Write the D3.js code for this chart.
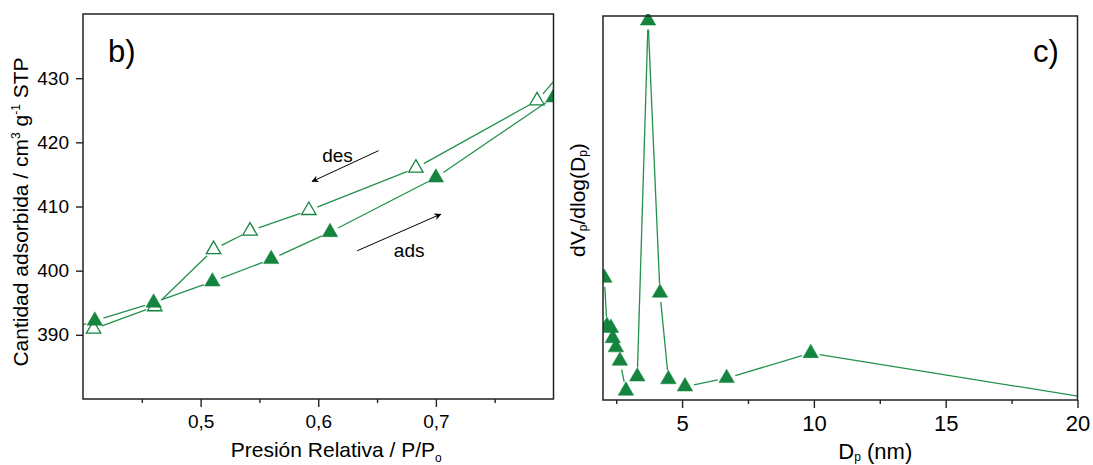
<!DOCTYPE html>
<html>
<head>
<meta charset="utf-8">
<script src="https://cdn.jsdelivr.net/npm/d3@7"></script>
<style>
  body { margin: 0; background: #fff; }
  text { font-family: Arial, "Liberation Sans", sans-serif; fill: #000; }
</style>
</head>
<body>
<svg id="chart" width="1093" height="465"></svg>
<script>
// panel b) isotherm, adsorption branch (filled) and desorption branch (open)
const adsPressure = [0.37, 0.41, 0.46, 0.51, 0.56, 0.61, 0.70, 0.80];
const adsAmount = [389.6, 392.2, 395.0, 398.3, 401.8, 406.0, 414.5, 427.0];
const desPressure = [0.409, 0.461, 0.511, 0.542, 0.592, 0.683, 0.786, 0.83];
const desAmount = [390.9, 394.4, 403.3, 406.2, 409.4, 416.0, 426.5, 435.8];
const pressureTicks = [0.5, 0.6, 0.7];
const pressureMinorTicks = [0.45, 0.55, 0.65, 0.75];
const amountTicks = [390, 400, 410, 420, 430];

// panel c) pore size distribution (arbitrary units)
const poreDiameter = [2.05, 2.15, 2.30, 2.37, 2.49, 2.64, 2.87, 3.30, 3.71, 4.16, 4.48, 5.11, 6.69, 9.88, 22];
const poreVolume = [31.8, 19.3, 18.75, 16.1, 13.7, 10.2, 2.4, 6.1, 98.8, 27.9, 5.4, 3.5, 5.7, 12.2, -1.2];
const diameterTicks = [5, 10, 15, 20];
const diameterMinorTicks = [2.5, 7.5, 12.5, 17.5];

// annotation arrows, in data units of panel b)
const desArrow = { from: [0.6513, 418.7], to: [0.5948, 413.9], label: 'des', at: [0.6164, 417.9] };
const adsArrow = { from: [0.6331, 403.1], to: [0.7041, 408.8], label: 'ads', at: [0.6773, 403.2] };

const markerFill = '#15843e';
const lineColor = '#23914c';
const frameColor = '#222';

const svg = d3.select('#chart');
const defs = svg.append('defs');

defs.append('marker')
	.attr('id', 'arrowHead')
	.attr('viewBox', '0 0 10 10')
	.attr('refX', 9).attr('refY', 5)
	.attr('markerWidth', 9).attr('markerHeight', 7)
	.attr('markerUnits', 'userSpaceOnUse')
	.attr('orient', 'auto')
	.append('path')
	.attr('d', 'M0,0 L10,5 L0,10 L3,5 Z')
	.attr('fill', '#000');

function addClip(id, x0, x1, y0, y1) {
	defs.append('clipPath').attr('id', id)
		.append('rect')
		.attr('x', x0).attr('y', y1)
		.attr('width', x1 - x0).attr('height', y0 - y1);
}

// line pieces that stop short of each marker, the way Origin draws them
function gappedSegments(points, gap) {
	let segments = [];
	for (let i = 0; i < points.length - 1; i++) {
		let [x1, y1] = points[i], [x2, y2] = points[i + 1];
		let dx = x2 - x1, dy = y2 - y1;
		let len = Math.sqrt(dx * dx + dy * dy);
		if (len <= 2 * gap) continue;
		let ux = dx / len, uy = dy / len;
		segments.push([x1 + ux * gap, y1 + uy * gap, x2 - ux * gap, y2 - uy * gap]);
	}
	return segments;
}

function drawSeries(g, xScale, yScale, xs, ys, isFilled) {
	let points = xs.map((x, i) => [xScale(x), yScale(ys[i])]);
	g.selectAll(null)
		.data(gappedSegments(points, 9))
		.enter().append('line')
		.attr('x1', d => d[0]).attr('y1', d => d[1])
		.attr('x2', d => d[2]).attr('y2', d => d[3])
		.attr('stroke', lineColor)
		.attr('stroke-width', 1.3);
	g.selectAll(null)
		.data(points)
		.enter().append('path')
		.attr('transform', d => 'translate(' + d[0] + ',' + d[1] + ')')
		.attr('d', d3.symbol(d3.symbolTriangle, isFilled ? 104 : 90)())
		.attr('fill', isFilled ? markerFill : '#fff')
		.attr('stroke', markerFill)
		.attr('stroke-width', isFilled ? 0.5 : 1.3);
}

function drawFrame(x0, x1, y0, y1) {
	svg.append('rect')
		.attr('x', x0).attr('y', y1)
		.attr('width', x1 - x0).attr('height', y0 - y1)
		.attr('fill', 'none')
		.attr('stroke', frameColor)
		.attr('stroke-width', 1.5);
}

function styleAxis(axisG, fontSize) {
	axisG.select('.domain').remove();
	axisG.selectAll('line').attr('stroke', frameColor).attr('stroke-width', 1.4);
	axisG.selectAll('text')
		.style('font-size', fontSize + 'px')
		.style('font-family', 'Arial, "Liberation Sans", sans-serif')
		.attr('fill', '#000');
}

// ---------- panel b) ----------
const bLeft = 83, bRight = 553.5, bTop = 14, bBottom = 399;
const xB = d3.scaleLinear().domain([0.4, 0.8]).range([bLeft, bRight]);
const yB = d3.scaleLinear().domain([380, 440]).range([bBottom, bTop]);
addClip('clipB', bLeft, bRight, bBottom, bTop);

const plotB = svg.append('g').attr('clip-path', 'url(#clipB)');
drawSeries(plotB.append('g'), xB, yB, desPressure, desAmount, false);
drawSeries(plotB.append('g'), xB, yB, adsPressure, adsAmount, true);

let axisBx = svg.append('g').attr('transform', 'translate(0,' + bBottom + ')')
	.call(d3.axisBottom(xB).tickValues(pressureTicks).tickSize(8).tickPadding(8)
		.tickFormat(d => d3.format('.1f')(d).replace('.', ',')));
styleAxis(axisBx, 19);
let axisBxMinor = svg.append('g').attr('transform', 'translate(0,' + bBottom + ')')
	.call(d3.axisBottom(xB).tickValues(pressureMinorTicks).tickSize(4).tickFormat(''));
styleAxis(axisBxMinor, 19);
let axisBy = svg.append('g').attr('transform', 'translate(' + bLeft + ',0)')
	.call(d3.axisLeft(yB).tickValues(amountTicks).tickSize(7).tickPadding(7));
styleAxis(axisBy, 19);
drawFrame(bLeft, bRight, bBottom, bTop);

[desArrow, adsArrow].forEach(function(a) {
	svg.append('line')
		.attr('x1', xB(a.from[0])).attr('y1', yB(a.from[1]))
		.attr('x2', xB(a.to[0])).attr('y2', yB(a.to[1]))
		.attr('stroke', '#000').attr('stroke-width', 1)
		.attr('marker-end', 'url(#arrowHead)');
	svg.append('text')
		.attr('x', xB(a.at[0])).attr('y', yB(a.at[1]))
		.attr('text-anchor', 'middle').attr('dy', '0.35em')
		.style('font-size', '19px')
		.text(a.label);
});

svg.append('text').attr('x', 108).attr('y', 62).style('font-size', '31px').text('b)');

let bYTitle = svg.append('text')
	.attr('transform', 'translate(28,212) rotate(-90)')
	.attr('text-anchor', 'middle')
	.style('font-size', '21px');
bYTitle.append('tspan').text('Cantidad adsorbida / cm');
bYTitle.append('tspan').attr('dy', -8).style('font-size', '12px').text('3');
bYTitle.append('tspan').attr('dy', 8).text(' g');
bYTitle.append('tspan').attr('dy', -8).style('font-size', '12px').text('-1');
bYTitle.append('tspan').attr('dy', 8).text(' STP');

let bXTitle = svg.append('text')
	.attr('x', (bLeft + bRight) / 2 + 18).attr('y', 457)
	.attr('text-anchor', 'middle')
	.style('font-size', '21px');
bXTitle.append('tspan').text('Presión Relativa / P/P');
bXTitle.append('tspan').attr('dy', 5).style('font-size', '12px').text('o');

// ---------- panel c) ----------
const cLeft = 603, cRight = 1077.5, cTop = 16, cBottom = 400;
const xC = d3.scaleLinear().domain([2, 20]).range([cLeft, cRight]);
const yC = d3.scaleLinear().domain([0, 100]).range([cBottom, cTop]);
addClip('clipC', cLeft, cRight, cBottom, cTop - 2);

const plotC = svg.append('g').attr('clip-path', 'url(#clipC)');
drawSeries(plotC.append('g'), xC, yC, poreDiameter, poreVolume, true);

let axisCx = svg.append('g').attr('transform', 'translate(0,' + cBottom + ')')
	.call(d3.axisBottom(xC).tickValues(diameterTicks).tickSize(8).tickPadding(7));
styleAxis(axisCx, 22);
let axisCxMinor = svg.append('g').attr('transform', 'translate(0,' + cBottom + ')')
	.call(d3.axisBottom(xC).tickValues(diameterMinorTicks).tickSize(4).tickFormat(''));
styleAxis(axisCxMinor, 22);
drawFrame(cLeft, cRight, cBottom, cTop);

svg.append('text').attr('x', 1033).attr('y', 62).style('font-size', '31px').text('c)');

let cYTitle = svg.append('text')
	.attr('transform', 'translate(585,200) rotate(-90)')
	.attr('text-anchor', 'middle')
	.style('font-size', '21px');
cYTitle.append('tspan').text('dV');
cYTitle.append('tspan').attr('dy', 2).style('font-size', '12px').text('p');
cYTitle.append('tspan').attr('dy', -2).text('/dlog(D');
cYTitle.append('tspan').attr('dy', 2).style('font-size', '12px').text('p');
cYTitle.append('tspan').attr('dy', -2).text(')');

let cXTitle = svg.append('text')
	.attr('x', (cLeft + cRight) / 2 + 35).attr('y', 459)
	.attr('text-anchor', 'middle')
	.style('font-size', '22px');
cXTitle.append('tspan').text('D');
cXTitle.append('tspan').attr('dy', 2).style('font-size', '12px').text('p');
cXTitle.append('tspan').attr('dy', -2).text(' (nm)');
</script>
</body>
</html>
